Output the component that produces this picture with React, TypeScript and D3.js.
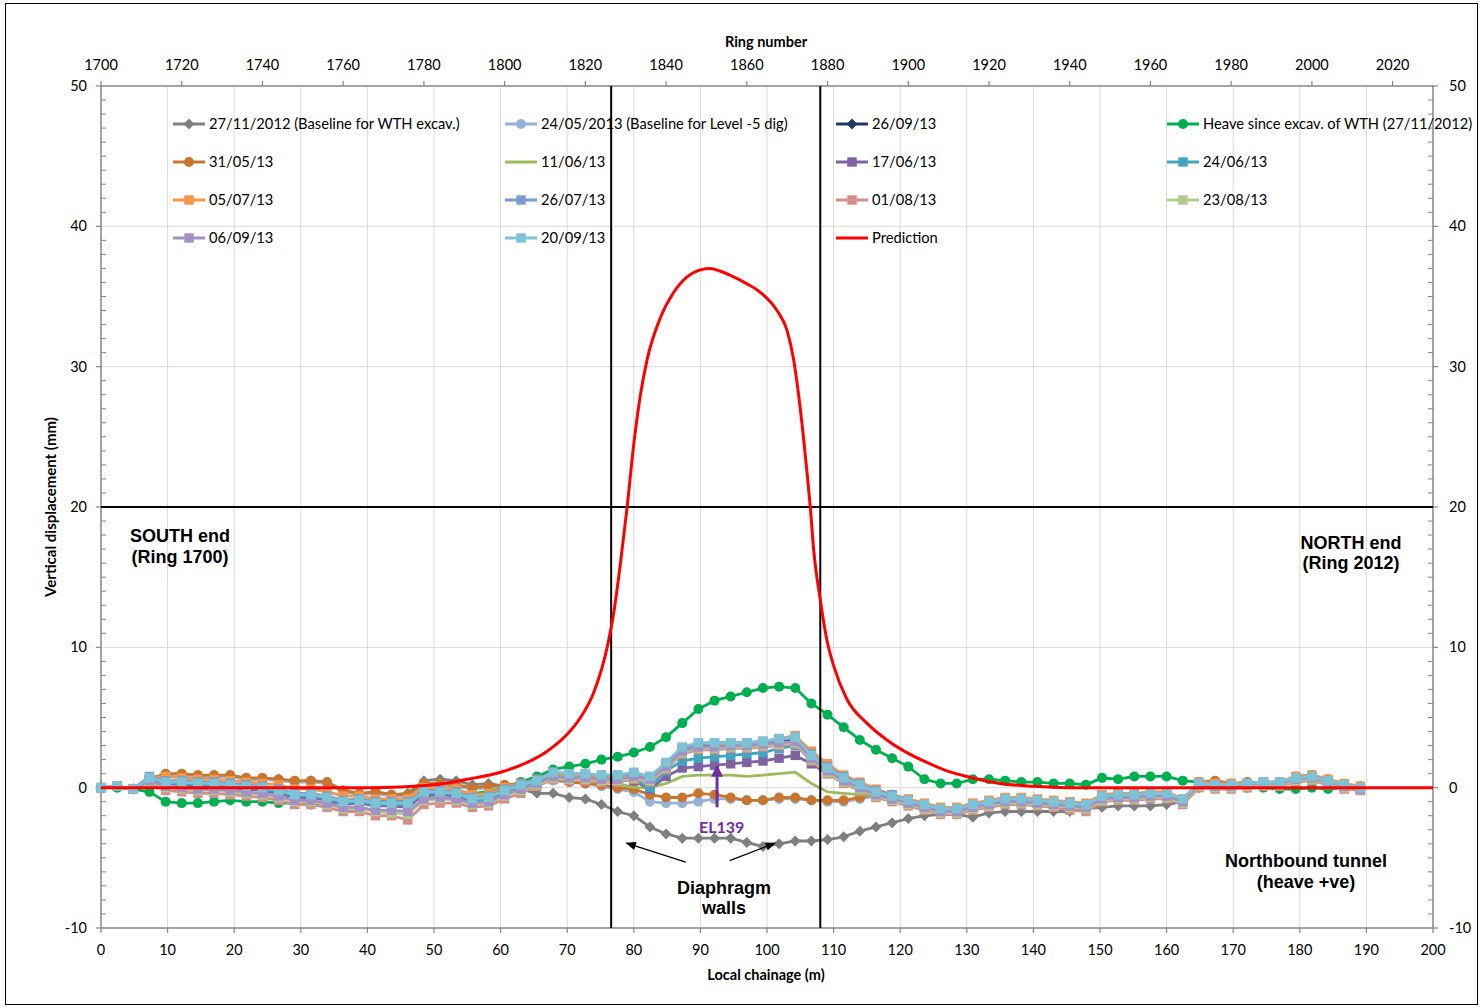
import React from "react";
import * as d3 from "d3";

// ring numbers of the survey points (every 4th ring)
const rings = [
  1700, 1704, 1708, 1712, 1716, 1720, 1724, 1728, 1732, 1736,
  1740, 1744, 1748, 1752, 1756, 1760, 1764, 1768, 1772, 1776,
  1780, 1784, 1788, 1792, 1796, 1800, 1804, 1808, 1812, 1816,
  1820, 1824, 1828, 1832, 1836, 1840, 1844, 1848, 1852, 1856,
  1860, 1864, 1868, 1872, 1876, 1880, 1884, 1888, 1892, 1896,
  1900, 1904, 1908, 1912, 1916, 1920, 1924, 1928, 1932, 1936,
  1940, 1944, 1948, 1952, 1956, 1960, 1964, 1968, 1972, 1976,
  1980, 1984, 1988, 1992, 1996, 2000, 2004, 2008, 2012,
];

const base271112 = [
  0, 0.1, -0.1, 0.7, 0.9, 0.9, 0.8, 0.8, 0.8, 0.6,
  0.6, 0.6, 0.4, 0.5, 0.4, -0.2, -0.5, -0.3, -0.5, -0.4,
  0.5, 0.6, 0.5, 0.2, 0.3, 0.1, -0.1, -0.4, -0.4, -0.7,
  -0.8, -1.2, -1.7, -2.0, -2.8, -3.3, -3.6, -3.6, -3.6, -3.6,
  -3.9, -4.2, -4.0, -3.8, -3.8, -3.7, -3.5, -3.1, -2.8, -2.5,
  -2.2, -2.0, -1.9, -1.9, -2.1, -1.8, -1.7, -1.7, -1.7, -1.7,
  -1.7, -1.5, -1.4, -1.3, -1.3, -1.3, -1.2, -1.0, 0.0, 0.1,
  0.1, 0.2, 0.2, 0.2, 0.5, 0.6, 0.4, 0.1, 0.0,
];
const base240513 = [
  0, 0.1, -0.1, 0.6, 0.9, 0.9, 0.8, 0.8, 0.8, 0.6,
  0.6, 0.5, 0.4, 0.4, 0.3, -0.3, -0.5, -0.4, -0.6, -0.6,
  0.2, 0.2, 0.1, -0.1, 0.0, 0.1, 0.2, 0.4, 0.5, 0.4,
  0.3, 0.1, -0.1, -0.3, -1.0, -1.1, -1.1, -1.0, -0.8, -0.8,
  -0.9, -0.9, -0.8, -0.8, -0.9, -1.0, -1.0, -0.8, -0.6, -0.6,
  -1.0, -1.3, -1.6, -1.6, -1.4, -1.2, -1.0, -1.0, -1.0, -1.1,
  -1.2, -1.3, -0.8, -0.7, -0.7, -0.6, -0.6, -1.0, 0.3, 0.4,
  0.2, 0.3, 0.2, 0.3, 0.7, 0.8, 0.5, 0.1, 0.0,
];
const s260913 = [
  0, 0.1, -0.1, 0.6, 0.3, 0.3, 0.2, 0.2, 0.1, 0.0,
  -0.1, -0.3, -0.6, -0.6, -0.8, -1.1, -1.0, -1.2, -1.2, -1.2,
  -0.4, -0.4, -0.5, -0.9, -0.8, -0.3, 0.1, 0.4, 1.0, 0.9,
  0.9, 0.8, 0.8, 1.0, 0.7, 1.6, 2.7, 3.0, 3.0, 3.0,
  3.0, 3.1, 3.3, 3.4, 2.1, 1.2, 0.5, 0.0, -0.5, -0.8,
  -1.1, -1.4, -1.7, -1.7, -1.4, -1.2, -1.0, -1.0, -1.1, -1.2,
  -1.3, -1.4, -0.8, -0.7, -0.7, -0.6, -0.6, -1.0, 0.2, 0.1,
  0.1, 0.2, 0.3, 0.3, 0.6, 0.7, 0.4, 0.1, -0.1,
];
const heave = [
  0, 0, -0.1, -0.3, -1.0, -1.1, -1.1, -1.0, -0.9, -1.0,
  -1.0, -1.1, -1.1, -1.2, -1.1, -1.0, -1.0, -1.0, -0.9, -0.9,
  -0.6, -0.5, -0.5, -0.4, -0.3, 0.0, 0.4, 0.8, 1.3, 1.5,
  1.7, 2.0, 2.2, 2.5, 2.9, 3.6, 4.6, 5.6, 6.2, 6.5,
  6.8, 7.1, 7.2, 7.1, 6.0, 5.2, 4.3, 3.4, 2.7, 2.1,
  1.5, 0.6, 0.3, 0.3, 0.6, 0.6, 0.5, 0.4, 0.4, 0.3,
  0.3, 0.2, 0.7, 0.6, 0.8, 0.8, 0.8, 0.5, 0.4, 0.1,
  0.1, 0.0, 0.0, -0.1, -0.1, 0.0, -0.1, 0.0, 0.0,
];
const s310513 = [
  0, 0.1, -0.1, 0.6, 1.0, 1.0, 0.9, 0.9, 0.9, 0.7,
  0.7, 0.6, 0.5, 0.5, 0.4, -0.2, -0.4, -0.3, -0.5, -0.5,
  0.3, 0.3, 0.2, 0.0, 0.1, 0.2, 0.3, 0.5, 0.6, 0.4,
  0.3, 0.2, 0.0, -0.1, -0.5, -0.7, -0.7, -0.4, -0.5, -0.7,
  -0.9, -0.9, -0.7, -0.7, -0.9, -0.9, -0.9, -0.7, -0.5, -0.5,
  -0.9, -1.2, -1.5, -1.5, -1.3, -1.1, -0.9, -0.9, -0.9, -1.0,
  -1.1, -1.2, -0.7, -0.6, -0.6, -0.5, -0.5, -0.9, 0.4, 0.5,
  0.3, 0.4, 0.3, 0.4, 0.8, 0.9, 0.6, 0.2, 0.1,
];
const s110613 = [
  0, 0.1, -0.1, 0.6, 0.4, 0.4, 0.3, 0.3, 0.2, 0.1,
  0.0, -0.2, -0.5, -0.5, -0.7, -1.0, -0.9, -1.1, -1.1, -1.1,
  -0.3, -0.3, -0.4, -0.8, -0.7, -0.3, 0.1, 0.4, 0.8, 0.7,
  0.6, 0.5, 0.3, 0.0, 0.0, 0.3, 0.8, 0.9, 0.9, 0.9,
  0.8, 0.9, 1.0, 1.1, 0.3, -0.3, -0.4, -0.5, -0.6, -0.8,
  -1.1, -1.4, -1.6, -1.6, -1.3, -1.1, -0.9, -0.9, -1.0, -1.1,
  -1.2, -1.3, -0.7, -0.6, -0.6, -0.5, -0.5, -0.9, 0.2, 0.1,
  0.1, 0.2, 0.3, 0.3, 0.6, 0.7, 0.4, 0.1, 0.0,
];
const s170613 = [
  0, 0.1, -0.1, 0.6, 0.3, 0.2, 0.1, 0.1, 0.0, -0.1,
  -0.2, -0.4, -0.7, -0.7, -0.9, -1.2, -1.1, -1.3, -1.3, -1.4,
  -0.5, -0.5, -0.6, -1.0, -0.9, -0.4, 0.0, 0.4, 0.9, 0.8,
  0.8, 0.7, 0.6, 0.5, -0.1, 0.8, 1.4, 1.5, 1.6, 1.7,
  1.8, 1.9, 2.1, 2.3, 1.7, 1.0, 0.5, 0.0, -0.5, -0.8,
  -1.1, -1.4, -1.7, -1.7, -1.4, -1.2, -1.0, -1.0, -1.1, -1.2,
  -1.3, -1.4, -0.8, -0.7, -0.7, -0.6, -0.6, -1.0, 0.2, 0.1,
  0.1, 0.2, 0.3, 0.3, 0.6, 0.7, 0.4, 0.1, -0.1,
];
const s240613 = [
  0, 0.1, -0.1, 0.6, 0.3, 0.3, 0.2, 0.2, 0.1, 0.0,
  -0.1, -0.3, -0.6, -0.6, -0.8, -1.1, -1.0, -1.2, -1.2, -1.2,
  -0.4, -0.4, -0.5, -0.9, -0.8, -0.3, 0.1, 0.4, 0.9, 0.8,
  0.8, 0.7, 0.7, 0.6, 0.0, 1.2, 1.9, 2.1, 2.2, 2.3,
  2.4, 2.5, 2.8, 3.0, 2.0, 1.2, 0.6, 0.1, -0.4, -0.7,
  -1.0, -1.3, -1.6, -1.6, -1.3, -1.1, -0.9, -0.9, -1.0, -1.1,
  -1.2, -1.3, -0.7, -0.6, -0.6, -0.5, -0.5, -0.9, 0.2, 0.1,
  0.1, 0.2, 0.3, 0.3, 0.6, 0.7, 0.4, 0.1, -0.1,
];
const s050713 = [
  0, 0.1, -0.1, 0.7, 0.8, 0.7, 0.6, 0.6, 0.5, 0.4,
  0.3, 0.2, -0.1, -0.1, -0.3, -0.6, -0.6, -0.8, -0.8, -0.8,
  0.0, 0.0, -0.1, -0.5, -0.4, 0.0, 0.3, 0.6, 1.0, 0.9,
  0.9, 0.8, 0.8, 0.9, 0.7, 1.6, 2.8, 3.1, 3.1, 3.1,
  3.2, 3.3, 3.5, 3.7, 2.6, 1.7, 0.9, 0.4, -0.1, -0.5,
  -0.8, -1.1, -1.4, -1.4, -1.1, -0.9, -0.7, -0.7, -0.8, -0.9,
  -1.0, -1.1, -0.5, -0.4, -0.4, -0.3, -0.3, -0.8, 0.4, 0.3,
  0.3, 0.3, 0.4, 0.4, 0.8, 0.9, 0.6, 0.3, 0.1,
];
const s260713 = [
  0, 0.1, -0.1, 0.8, 0.5, 0.5, 0.4, 0.4, 0.3, 0.2,
  0.1, -0.1, -0.4, -0.4, -0.6, -0.9, -0.8, -1.0, -1.0, -1.0,
  -0.2, -0.2, -0.3, -0.7, -0.6, -0.1, 0.3, 0.6, 1.1, 1.0,
  1.0, 0.9, 0.9, 1.0, 0.8, 1.7, 2.8, 3.1, 3.2, 3.2,
  3.2, 3.3, 3.4, 3.6, 2.4, 1.5, 0.8, 0.3, -0.2, -0.5,
  -0.9, -1.2, -1.5, -1.5, -1.2, -1.0, -0.8, -0.8, -0.9, -1.0,
  -1.1, -1.2, -0.6, -0.5, -0.5, -0.4, -0.4, -0.9, 0.3, 0.2,
  0.2, 0.3, 0.4, 0.4, 0.7, 0.8, 0.5, 0.2, 0.0,
];
const s010813 = [
  0, 0.1, -0.1, 0.3, -0.2, -0.3, -0.4, -0.4, -0.5, -0.6,
  -0.7, -0.9, -1.2, -1.2, -1.4, -1.7, -1.7, -2.0, -2.0, -2.3,
  -1.2, -1.1, -1.1, -1.4, -1.3, -0.8, -0.4, 0.1, 0.6, 0.5,
  0.5, 0.4, 0.4, 0.6, 0.4, 1.3, 2.4, 2.7, 2.7, 2.8,
  2.8, 2.9, 3.0, 3.1, 1.9, 1.0, 0.3, -0.2, -0.7, -1.0,
  -1.3, -1.6, -1.9, -1.9, -1.6, -1.4, -1.2, -1.2, -1.3, -1.4,
  -1.6, -1.7, -1.0, -0.9, -0.9, -0.8, -0.8, -1.2, 0.0, -0.1,
  -0.1, 0.0, 0.1, 0.1, 0.4, 0.5, 0.2, -0.1, -0.2,
];
const s230813 = [
  0, 0.1, -0.1, 0.4, 0.0, -0.1, -0.2, -0.2, -0.3, -0.4,
  -0.5, -0.7, -1.0, -1.0, -1.2, -1.5, -1.5, -1.7, -1.8, -1.9,
  -0.9, -0.8, -0.9, -1.2, -1.1, -0.6, -0.2, 0.2, 0.7, 0.6,
  0.6, 0.5, 0.5, 0.7, 0.5, 1.4, 2.5, 2.8, 2.8, 2.9,
  2.9, 3.0, 3.1, 3.2, 2.0, 1.1, 0.4, -0.1, -0.6, -0.9,
  -1.2, -1.5, -1.8, -1.8, -1.5, -1.3, -1.1, -1.1, -1.2, -1.3,
  -1.4, -1.5, -0.9, -0.8, -0.8, -0.7, -0.7, -1.1, 0.1, 0.0,
  0.0, 0.1, 0.2, 0.2, 0.5, 0.6, 0.3, 0.0, -0.1,
];
const s060913 = [
  0, 0.1, -0.1, 0.5, 0.1, 0.0, -0.1, -0.1, -0.2, -0.3,
  -0.4, -0.6, -0.9, -0.9, -1.1, -1.4, -1.4, -1.6, -1.6, -1.7,
  -0.8, -0.7, -0.8, -1.1, -1.0, -0.5, -0.1, 0.3, 0.8, 0.7,
  0.7, 0.6, 0.6, 0.8, 0.6, 1.5, 2.6, 2.9, 2.9, 3.0,
  3.0, 3.1, 3.2, 3.3, 2.1, 1.2, 0.5, 0.0, -0.5, -0.8,
  -1.1, -1.4, -1.7, -1.7, -1.4, -1.2, -1.0, -1.0, -1.1, -1.2,
  -1.3, -1.4, -0.8, -0.7, -0.7, -0.6, -0.6, -1.0, 0.2, 0.1,
  0.1, 0.2, 0.3, 0.3, 0.6, 0.7, 0.4, 0.1, -0.1,
];
const s200913 = [
  0, 0.1, -0.1, 0.7, 0.4, 0.4, 0.3, 0.3, 0.2, 0.1,
  0.0, -0.2, -0.5, -0.5, -0.7, -1.0, -0.9, -1.1, -1.1, -1.1,
  -0.3, -0.3, -0.4, -0.8, -0.7, -0.2, 0.2, 0.5, 1.1, 1.0,
  1.0, 0.9, 0.9, 1.1, 0.8, 1.8, 2.9, 3.2, 3.2, 3.2,
  3.2, 3.3, 3.5, 3.6, 2.3, 1.4, 0.7, 0.2, -0.3, -0.6,
  -0.9, -1.2, -1.5, -1.5, -1.2, -1.0, -0.8, -0.8, -0.9, -1.0,
  -1.1, -1.2, -0.6, -0.5, -0.5, -0.4, -0.4, -0.8, 0.3, 0.2,
  0.2, 0.3, 0.4, 0.4, 0.7, 0.8, 0.5, 0.2, 0.0,
];

// predicted heave (chainage m / mm)
const predChainage = [
  0, 20, 40, 45, 50, 55, 60, 64, 67, 70, 72, 74, 76, 77, 78, 79, 80, 81, 82, 84,
  86, 88, 90, 91.5, 93, 95, 97, 99, 101.5, 103, 104, 105, 106, 106.5, 107, 108, 109, 110,
  112, 115, 118, 121, 124, 127, 130, 135, 140, 145, 200,
];
const predValues = [
  0, 0, 0, 0.05, 0.2, 0.6, 1.1, 1.8, 2.6, 3.8, 5.0, 6.8, 10.0, 12.5, 16.0, 20.0, 24.5, 28.0, 30.5, 33.5,
  35.3, 36.4, 36.9, 37.0, 36.8, 36.4, 35.9, 35.3, 34.0, 32.6, 30.5, 27.0, 22.5, 20.0, 17.0, 13.4, 10.5, 8.7,
  6.3, 4.6, 3.4, 2.5, 1.8, 1.2, 0.8, 0.3, 0.1, 0.0, 0.0,
];

const wallChainage = [76.6, 108.0];
const refLevel = 20;

const ringTicks = [1700, 1720, 1740, 1760, 1780, 1800, 1820, 1840, 1860, 1880, 1900, 1920, 1940, 1960, 1980, 2000, 2020];
const chainTicks = [0, 10, 20, 30, 40, 50, 60, 70, 80, 90, 100, 110, 120, 130, 140, 150, 160, 170, 180, 190, 200];
const dispTicks = [-10, 0, 10, 20, 30, 40, 50];

type Mk = "diamond" | "circle" | "square" | "none";
const series: { name: string; values: number[]; color: string; marker: Mk }[] = [
  { name: "27/11/2012 (Baseline for WTH excav.)", values: base271112, color: "#7F7F7F", marker: "diamond" },
  { name: "24/05/2013 (Baseline for Level -5 dig)", values: base240513, color: "#95B3D7", marker: "circle" },
  { name: "26/09/13", values: s260913, color: "#1F3B63", marker: "diamond" },
  { name: "Heave since excav. of WTH (27/11/2012)", values: heave, color: "#00B050", marker: "circle" },
  { name: "31/05/13", values: s310513, color: "#C8762F", marker: "circle" },
  { name: "11/06/13", values: s110613, color: "#9BBB59", marker: "none" },
  { name: "17/06/13", values: s170613, color: "#7F62A2", marker: "square" },
  { name: "24/06/13", values: s240613, color: "#41A5C2", marker: "square" },
  { name: "05/07/13", values: s050713, color: "#F79646", marker: "square" },
  { name: "26/07/13", values: s260713, color: "#7C9BCB", marker: "square" },
  { name: "01/08/13", values: s010813, color: "#D68C8A", marker: "square" },
  { name: "23/08/13", values: s230813, color: "#B1CC87", marker: "square" },
  { name: "06/09/13", values: s060913, color: "#A391C5", marker: "square" },
  { name: "20/09/13", values: s200913, color: "#7EC2D6", marker: "square" },
];

const FONT = "Lato, 'Open Sans', sans-serif";
const BOLD = "'Liberation Sans', Arial, sans-serif";

function Marker({ kind, cx, cy, color }: { kind: Mk; cx: number; cy: number; color: string }) {
  if (kind === "circle") return <circle cx={cx} cy={cy} r={5} fill={color} />;
  if (kind === "square") return <rect x={cx - 4.7} y={cy - 4.7} width={9.4} height={9.4} fill={color} />;
  if (kind === "diamond")
    return <path d={`M${cx},${cy - 5.5}L${cx + 5.5},${cy}L${cx},${cy + 5.5}L${cx - 5.5},${cy}Z`} fill={color} />;
  return null;
}

export default function App() {
  const L = 101, R = 1433, T = 86, B = 928;
  const x = d3.scaleLinear().domain([0, 200]).range([L, R]);
  const xr = d3.scaleLinear().domain([1700, 2030]).range([L, R]);
  const y = d3.scaleLinear().domain([-10, 50]).range([B, T]);
  const line = d3.line<number>().x((_, i) => xr(rings[i])).y((d) => y(d));
  const pred = d3
    .line<number>()
    .x((_, i) => x(predChainage[i]))
    .y((d) => y(d))
    .curve(d3.curveMonotoneX);
  const minor = d3.range(-10, 50, 1).filter((v) => v % 10 !== 0);

  const legendCols = [173, 505, 836, 1167];
  const legendRows = [124, 162, 200, 238];
  const legendItems = [...series, { name: "Prediction", values: predValues, color: "#FF0000", marker: "none" as Mk }];

  const axisColor = "#868686";

  return (
    <div style={{ position: "absolute", left: 0, top: 0 }}>
      <svg width={1480} height={1007} style={{ display: "block", background: "#fff" }}>
        <rect x={5.5} y={3.5} width={1472} height={1001} fill="#fff" stroke="#000" strokeWidth={1} />

        {/* gridlines */}
        {chainTicks.slice(1, -1).map((t) => (
          <line key={"gx" + t} x1={x(t)} x2={x(t)} y1={T} y2={B} stroke="#D9D9D9" strokeWidth={1} />
        ))}
        {dispTicks.slice(1, -1).map((t) => (
          <line key={"gy" + t} x1={L} x2={R} y1={y(t)} y2={y(t)} stroke="#D9D9D9" strokeWidth={1} />
        ))}

        {/* axes */}
        <rect x={L} y={T} width={R - L} height={B - T} fill="none" stroke={axisColor} strokeWidth={1.5} />
        {chainTicks.map((t) => (
          <g key={"bx" + t}>
            <line x1={x(t)} x2={x(t)} y1={B} y2={B + 5} stroke={axisColor} strokeWidth={1.2} />
            <text x={x(t)} y={955} textAnchor="middle" fontFamily={FONT} fontSize={14.5} fill="#000">
              {t}
            </text>
          </g>
        ))}
        {ringTicks.map((t) => (
          <g key={"tx" + t}>
            <line x1={xr(t)} x2={xr(t)} y1={T - 5} y2={T} stroke={axisColor} strokeWidth={1.2} />
            <text x={xr(t)} y={70} textAnchor="middle" fontFamily={FONT} fontSize={14.5} fill="#000">
              {t}
            </text>
          </g>
        ))}
        {dispTicks.map((t) => (
          <g key={"ly" + t}>
            <line x1={L - 5} x2={L} y1={y(t)} y2={y(t)} stroke={axisColor} strokeWidth={1.2} />
            <line x1={R} x2={R + 5} y1={y(t)} y2={y(t)} stroke={axisColor} strokeWidth={1.2} />
            <text x={87} y={y(t) + 5} textAnchor="end" fontFamily={FONT} fontSize={14.5} fill="#000">
              {t}
            </text>
            <text x={1449} y={y(t) + 5} textAnchor="start" fontFamily={FONT} fontSize={14.5} fill="#000">
              {t}
            </text>
          </g>
        ))}
        {minor.map((t) => (
          <g key={"mn" + t}>
            <line x1={L} x2={L + 5} y1={y(t)} y2={y(t)} stroke={axisColor} strokeWidth={1} />
            <line x1={R - 5} x2={R} y1={y(t)} y2={y(t)} stroke={axisColor} strokeWidth={1} />
          </g>
        ))}

        {/* axis titles */}
        <text x={766} y={47} textAnchor="middle" fontFamily={FONT} fontWeight="bold" fontSize={14.5}>
          Ring number
        </text>
        <text x={766} y={980} textAnchor="middle" fontFamily={FONT} fontWeight="bold" fontSize={14.5}>
          Local chainage (m)
        </text>
        <text
          transform={`translate(56,${y(20)}) rotate(-90)`}
          textAnchor="middle"
          fontFamily={FONT}
          fontWeight="bold"
          fontSize={15}
        >
          Vertical displacement (mm)
        </text>

        {/* survey series */}
        {series.map((s) => (
          <g key={s.name}>
            <path d={line(s.values) || ""} fill="none" stroke={s.color} strokeWidth={2.8} strokeLinejoin="round" />
            {s.values.map((v, i) => (
              <Marker key={i} kind={s.marker} cx={xr(rings[i])} cy={y(v)} color={s.color} />
            ))}
          </g>
        ))}

        {/* diaphragm walls and reference line */}
        {wallChainage.map((c) => (
          <line key={"w" + c} x1={x(c)} x2={x(c)} y1={T} y2={B} stroke="#000" strokeWidth={2} />
        ))}
        <line x1={L} x2={R} y1={y(refLevel)} y2={y(refLevel)} stroke="#000" strokeWidth={2} />

        {/* prediction */}
        <path d={pred(predValues) || ""} fill="none" stroke="#FF0000" strokeWidth={3} />

        {/* legend */}
        {legendItems.map((s, k) => {
          const cx = legendCols[k % 4];
          const cy = legendRows[Math.floor(k / 4)];
          return (
            <g key={"lg" + k}>
              <line x1={cx} x2={cx + 32} y1={cy} y2={cy} stroke={s.color} strokeWidth={3} />
              <Marker kind={s.marker} cx={cx + 16} cy={cy} color={s.color} />
              <text x={cx + 36} y={cy + 5} fontFamily={FONT} fontSize={14.7} fill="#000">
                {s.name}
              </text>
            </g>
          );
        })}

        {/* annotations */}
        <g fontFamily={BOLD} fontWeight="bold" fontSize={18} fill="#000" textAnchor="middle">
          <text x={180} y={542}>SOUTH end</text>
          <text x={180} y={563}>(Ring 1700)</text>
          <text x={1351} y={549}>NORTH end</text>
          <text x={1351} y={569}>(Ring 2012)</text>
          <text x={1306} y={867}>Northbound tunnel</text>
          <text x={1306} y={888}>(heave +ve)</text>
          <text x={724} y={894}>Diaphragm</text>
          <text x={724} y={914}>walls</text>
        </g>
        <defs>
          <marker id="ah" viewBox="0 0 10 10" refX={9} refY={5} markerWidth={10} markerHeight={8} orient="auto">
            <path d="M0,1L10,5L0,9Z" fill="#000" />
          </marker>
          <marker id="ahp" viewBox="0 0 10 10" refX={9} refY={5} markerWidth={4.5} markerHeight={4} orient="auto">
            <path d="M0,0L10,5L0,10Z" fill="#7030A0" />
          </marker>
        </defs>
        <line x1={x(87.8)} y1={y(-5.3)} x2={x(78.9)} y2={y(-3.95)} stroke="#000" strokeWidth={1.3} markerEnd="url(#ah)" />
        <line x1={x(94.4)} y1={y(-5.2)} x2={x(101.2)} y2={y(-3.95)} stroke="#000" strokeWidth={1.3} markerEnd="url(#ah)" />
        <line x1={x(92.5)} y1={y(-1.4)} x2={x(92.5)} y2={y(1.55)} stroke="#7030A0" strokeWidth={3} markerEnd="url(#ahp)" />
        <text x={x(93.2)} y={833} textAnchor="middle" fontFamily={FONT} fontWeight="bold" fontSize={16} fill="#7030A0">
          EL139
        </text>
      </svg>
    </div>
  );
}
